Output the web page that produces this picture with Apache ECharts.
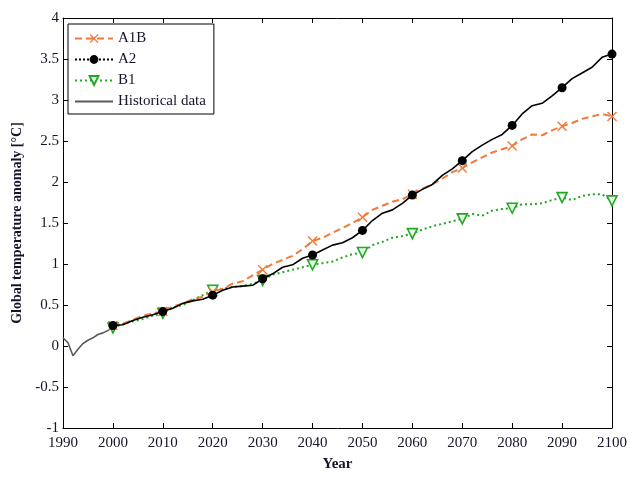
<!DOCTYPE html>
<html>
<head>
<meta charset="utf-8">
<script src="https://cdn.jsdelivr.net/npm/echarts@6/dist/echarts.min.js"></script>
<style>html,body{margin:0;padding:0;background:#fff;}#c{width:630px;height:477px;}</style>
</head>
<body>
<div id="c"></div>
<script>
const histYears = [1990,1991,1992,1993,1994,1995,1996,1997,1998,1999,2000];
const histTemps = [0.10,0.04,-0.12,-0.04,0.03,0.07,0.10,0.14,0.16,0.19,0.23];
const scenarioYears = [];
for (let y = 2000; y <= 2100; y += 2) scenarioYears.push(y);
const a1bTemps = [0.25,0.27,0.32,0.37,0.40,0.42,0.48,0.52,0.57,0.60,
  0.66,0.70,0.76,0.79,0.86,0.93,1.00,1.05,1.10,1.18,
  1.28,1.32,1.38,1.44,1.50,1.57,1.66,1.71,1.76,1.79,
  1.85,1.92,1.97,2.04,2.12,2.17,2.24,2.30,2.36,2.40,
  2.44,2.52,2.58,2.57,2.63,2.68,2.72,2.77,2.80,2.83,2.80];
const a2Temps = [0.25,0.26,0.31,0.35,0.38,0.42,0.46,0.52,0.55,0.57,
  0.62,0.68,0.72,0.73,0.74,0.82,0.88,0.96,0.99,1.07,
  1.11,1.17,1.23,1.26,1.32,1.41,1.53,1.62,1.66,1.74,
  1.84,1.91,1.97,2.08,2.16,2.26,2.37,2.45,2.52,2.58,
  2.69,2.83,2.93,2.96,3.05,3.15,3.26,3.33,3.40,3.52,3.56];
const b1Temps = [0.22,0.27,0.30,0.33,0.37,0.40,0.47,0.50,0.56,0.62,
  0.68,0.70,0.72,0.73,0.76,0.80,0.87,0.90,0.93,0.96,
  0.99,1.01,1.03,1.08,1.12,1.14,1.23,1.27,1.32,1.34,
  1.37,1.42,1.46,1.49,1.52,1.55,1.61,1.59,1.65,1.67,
  1.68,1.73,1.73,1.74,1.78,1.81,1.78,1.83,1.85,1.85,1.77];
const seriesNames = ['A1B','A2','B1','Historical data'];

function withMarkers(years, vals) {
  return years.map((y, i) => y % 10 === 0 ? { value: [y, vals[i]] } : { value: [y, vals[i]], symbol: 'none' });
}
const crossPath = 'path://M0,1L1,0L5,4L9,0L10,1L6,5L10,9L9,10L5,6L1,10L0,9L4,5Z';
const font = '"Liberation Serif", "DejaVu Serif", serif';
const txt = '#14142a';

const chart = echarts.init(document.getElementById('c'));
const xBase = { type: 'value', min: 1990, max: 2100, interval: 10, splitLine: { show: false },
  axisLine: { onZero: false, lineStyle: { color: '#000', width: 1 } },
  axisTick: { inside: true, length: 5, lineStyle: { color: '#000' } } };
const yBase = { type: 'value', min: -1, max: 4, interval: 0.5, splitLine: { show: false },
  axisLine: { show: true, onZero: false, lineStyle: { color: '#000', width: 1 } },
  axisTick: { show: true, inside: true, length: 5, lineStyle: { color: '#000' } } };
chart.setOption({
  animation: false,
  grid: { left: 63, right: 15, top: 18, bottom: 40 },
  xAxis: [
    Object.assign({}, xBase, { position: 'bottom', name: 'Year', nameLocation: 'middle', nameGap: 29,
      nameTextStyle: { fontFamily: font, fontWeight: 'bold', fontSize: 15, color: txt },
      axisLabel: { fontFamily: font, fontSize: 15, color: txt, margin: 8, formatter: v => String(v) } }),
    Object.assign({}, xBase, { position: 'top', axisLabel: { show: false } })
  ],
  yAxis: [
    Object.assign({}, yBase, { position: 'left', name: 'Global temperature anomaly [°C]', nameLocation: 'middle', nameGap: 30,
      nameTextStyle: { fontFamily: font, fontWeight: 'bold', fontSize: 14, color: txt },
      axisLabel: { fontFamily: font, fontSize: 15, color: txt, margin: 4 } }),
    Object.assign({}, yBase, { position: 'right', axisLabel: { show: false } })
  ],
  legend: {
    orient: 'vertical', left: 68, top: 24,
    backgroundColor: '#fff', borderColor: '#000', borderWidth: 1,
    padding: [7, 8, 5, 6], itemWidth: 38, itemHeight: 11, itemGap: 6,
    textStyle: { fontFamily: font, fontSize: 15, color: txt },
    data: [
      { name: 'A1B' },
      { name: 'A2', lineStyle: { type: 'dotted' } },
      { name: 'B1' },
      { name: 'Historical data', itemStyle: { opacity: 0 } }
    ]
  },
  series: [
    { name: seriesNames[3], type: 'line', data: histYears.map((y, i) => [y, histTemps[i]]),
      symbol: 'none', lineStyle: { color: '#5a5a5a', width: 1.6 }, itemStyle: { color: '#5a5a5a' }, z: 2 },
    { name: seriesNames[2], type: 'line', data: withMarkers(scenarioYears, b1Temps), showAllSymbol: true,
      symbol: 'triangle', symbolRotate: 180, symbolSize: 10,
      lineStyle: { color: '#22a822', width: 2, type: [2, 3] },
      itemStyle: { color: '#e6fae6', borderColor: '#22a822', borderWidth: 1.6 }, z: 3 },
    { name: seriesNames[0], type: 'line', data: withMarkers(scenarioYears, a1bTemps), showAllSymbol: true,
      symbol: crossPath, symbolSize: 10,
      lineStyle: { color: '#f07a3c', width: 2, type: [7, 4] },
      itemStyle: { color: '#f07a3c' }, z: 4 },
    { name: seriesNames[1], type: 'line', data: withMarkers(scenarioYears, a2Temps), showAllSymbol: true,
      symbol: 'circle', symbolSize: 9,
      lineStyle: { color: '#000', width: 1.6 },
      itemStyle: { color: '#000' }, z: 5 }
  ]
});
</script>
</body>
</html>
